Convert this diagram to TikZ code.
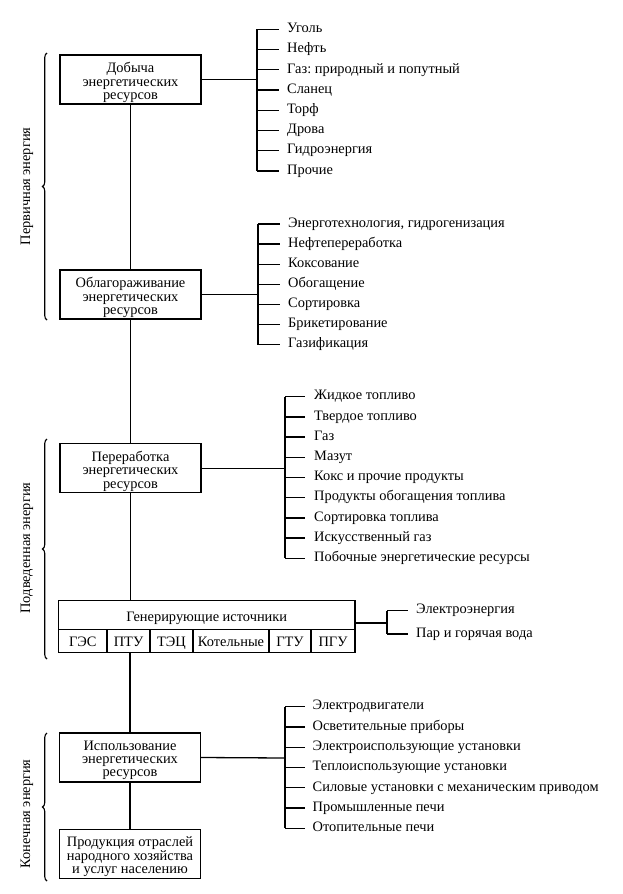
\documentclass[tikz,border=0pt]{standalone}
\usepackage{fontspec}
\setmainfont{Liberation Serif}
\usetikzlibrary{decorations.pathreplacing}
\frenchspacing
\begin{document}
\begin{tikzpicture}[x=1pt,y=-1pt,
  every node/.style={font=\fontsize{14.4}{13.3}\selectfont},
  box/.style={draw,line width=1.3pt,minimum width=141pt,minimum height=49pt,inner sep=0pt},
  btext/.style={align=center,inner sep=0pt},
  cell/.style={draw,line width=1.3pt,minimum height=23pt,inner sep=0pt,text height=9pt,text depth=2.5pt},
  item/.style={anchor=west,inner sep=0pt,text height=9pt,text depth=2.5pt},
  ln/.style={line width=1.3pt},
  tick/.style={line width=1.3pt,shorten >=8pt},
  br/.style={decorate,decoration={brace,amplitude=4.5pt},line width=1.1pt}]
\useasboundingbox (0,0) rectangle (622,894);

% main boxes
\node[box] (b1) at (130.5,79.5) {};
\node[box] (b2) at (130.5,294.5) {};
\node[box] (b3) at (130.5,468.3) {};
\node[box] (b5) at (130,757.5) {};
\node[box] (b6) at (130,853.8) {};
\node[btext] (t1) at ([yshift=-3pt]b1.center) {Добыча\\энергетических\\ресурсов};
\node[btext] (t2) at ([yshift=-3pt]b2.center) {Облагораживание\\энергетических\\ресурсов};
\node[btext] (t3) at ([yshift=-3pt]b3.center) {Переработка\\энергетических\\ресурсов};
\node[btext] (t5) at ([yshift=-3pt]b5.center) {Использование\\энергетических\\ресурсов};
\node[btext] (t6) at ([yshift=-3pt]b6.center) {Продукция отраслей\\народного хозяйства\\и услуг населению};

% generating sources
\node[draw,line width=1.3pt,minimum width=296.5pt,minimum height=29pt,inner sep=0pt,text height=9pt,text depth=2.5pt] (gen) at (206.75,615) {\raisebox{-3pt}{Генерирующие источники}};
\begin{scope}[every node/.append style={cell}]
\node[minimum width=48.5pt] (c1) at (82.75,641) {\raisebox{-2pt}{ГЭС}};
\node[minimum width=43pt] (c2) at (128.5,641) {\raisebox{-2pt}{ПТУ}};
\node[minimum width=43pt] (c3) at (171.5,641) {\raisebox{-2pt}{ТЭЦ}};
\node[minimum width=76pt] (c4) at (231,641) {\raisebox{-2pt}{Котельные}};
\node[minimum width=42pt] (c5) at (290,641) {\raisebox{-2pt}{ГТУ}};
\node[minimum width=44pt] (c6) at (333,641) {\raisebox{-2pt}{ПГУ}};
\end{scope}

% vertical trunk
\draw[ln] (b1.south) -- (b2.north);
\draw[ln] (b2.south) -- (b3.north);
\draw[ln] (b3.south) -- (b3.south |- gen.north);
\draw[ln] (b5.north |- c2.south) -- (b5.north);
\draw[ln] (b5.south) -- (b6.north);

% junctions
\coordinate (j1) at (257,79.5);
\coordinate (j2) at (258,294.5);
\coordinate (j3) at (285,468.3);
\coordinate (j4) at (387,623);
\coordinate (j5) at (285,758);

% list 1
\draw[ln] (b1.east) -- (j1);
\foreach \t [count=\i] in {Уголь,Нефть,{Газ: природный и попутный},Сланец,Торф,Дрова,Гидроэнергия,Прочие}{
  \node[item] (a\i) at (287,29.3+20.24*\i-20.24) {\t};
  \draw[tick] (j1 |- a\i.west) -- (a\i.west);
}
\draw[ln] (j1 |- a1.west) -- (j1 |- a8.west);

% list 2
\draw[ln] (b2.east) -- (j2);
\foreach \t [count=\i] in {{Энерготехнология, гидрогенизация},Нефтепереработка,Коксование,Обогащение,Сортировка,Брикетирование,Газификация}{
  \node[item] (o\i) at (288,224+20.1*\i-20.1) {\t};
  \draw[tick] (j2 |- o\i.west) -- (o\i.west);
}
\draw[ln] (j2 |- o1.west) -- (j2 |- o7.west);

% list 3
\draw[ln] (b3.east) -- (j3);
\foreach \t [count=\i] in {Жидкое топливо,Твердое топливо,Газ,Мазут,Кокс и прочие продукты,Продукты обогащения топлива,Сортировка топлива,Искусственный газ,Побочные энергетические ресурсы}{
  \node[item] (p\i) at (314,396.7+20.2*\i-20.2) {\t};
  \draw[tick,shorten >=9pt] (j3 |- p\i.west) -- (p\i.west);
}
\draw[ln] (j3 |- p1.west) -- (j3 |- p9.west);

% list 4
\draw[ln] (gen.east |- j4) -- (j4);
\node[item] (g1) at (416,610.7) {Электроэнергия};
\node[item] (g2) at (416,634) {Пар и горячая вода};
\draw[tick] (j4 |- g1.west) -- (g1.west);
\draw[tick] (j4 |- g2.west) -- (g2.west);
\draw[ln] (j4 |- g1.west) -- (j4 |- g2.west);

% list 5
\draw[ln] (b5.east) -- (j5);
\foreach \t [count=\i] in {Электродвигатели,Осветительные приборы,Электроиспользующие установки,Теплоиспользующие установки,Силовые установки с механическим приводом,Промышленные печи,Отопительные печи}{
  \node[item] (u\i) at (312.5,706.7+20.27*\i-20.27) {\t};
  \draw[tick] (j5 |- u\i.west) -- (u\i.west);
}
\draw[ln] (j5 |- u1.west) -- (j5 |- u7.west);

% braces and labels
\coordinate (r1a) at (47,320); \coordinate (r1b) at (47,53);
\coordinate (r2a) at (47,659); \coordinate (r2b) at (47,439);
\coordinate (r3a) at (47,881); \coordinate (r3b) at (47,733);
\draw[br] (r1a) -- (r1b);
\draw[br] (r2a) -- (r2b);
\draw[br] (r3a) -- (r3b);
\node[rotate=90] (l1) at (27,186.5) {Первичная энергия};
\node[rotate=90] (l2) at (27,548) {Подведенная энергия};
\node[rotate=90] (l3) at (27,814) {Конечная энергия};
\end{tikzpicture}
\end{document}
